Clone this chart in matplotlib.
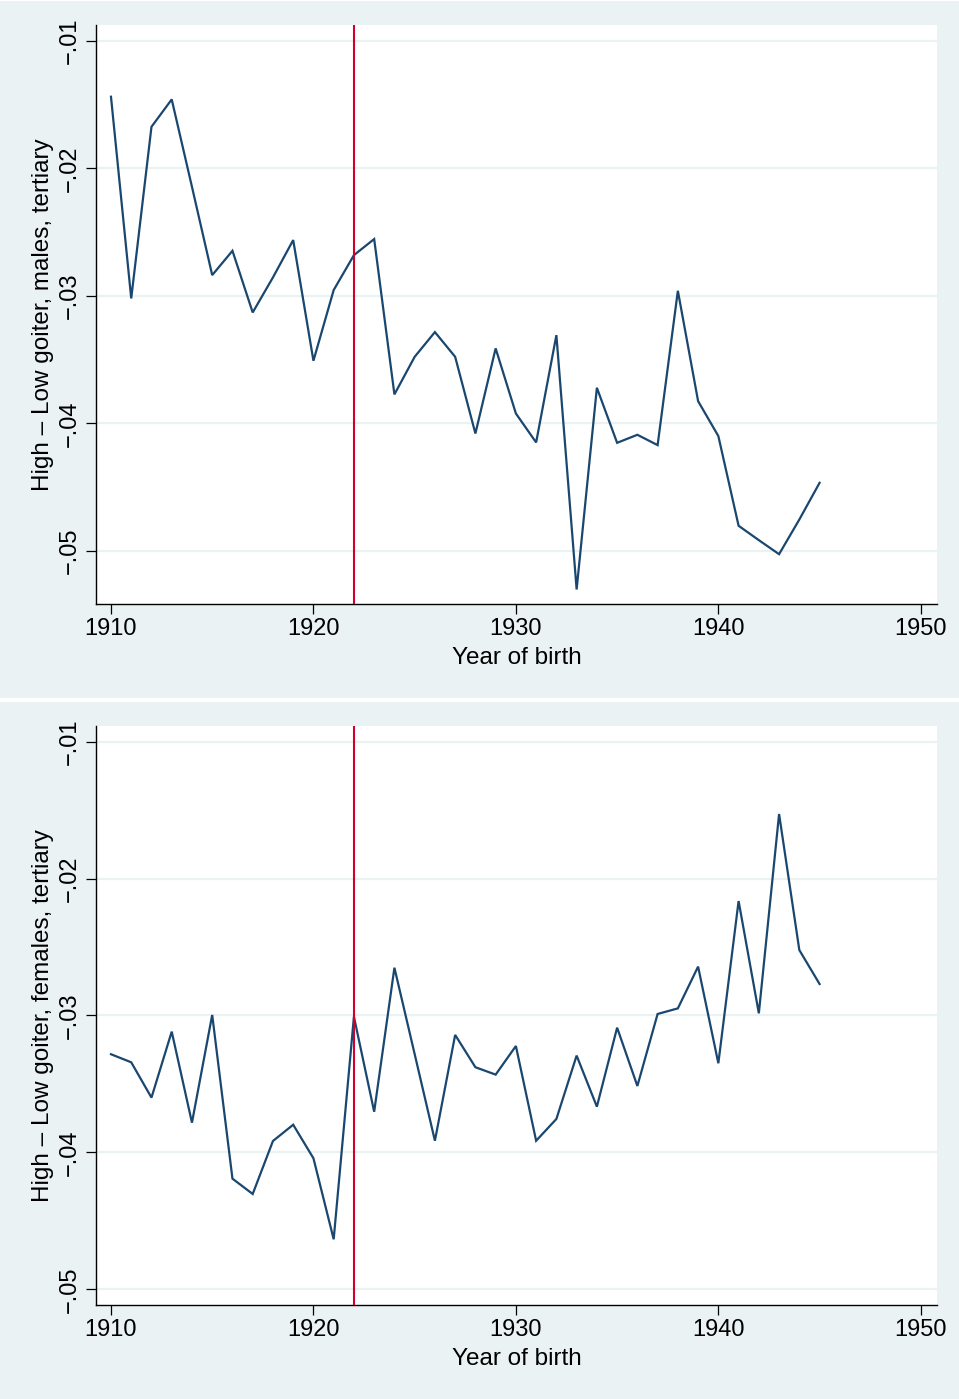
import matplotlib
matplotlib.use("Agg")
import matplotlib.pyplot as plt
from matplotlib.patches import Rectangle

plt.rcParams['font.family'] = ['Liberation Sans', 'DejaVu Sans']

years = list(range(1910, 1946))

males = [-0.01437, -0.03020, -0.01673, -0.01458, -0.02144, -0.02837, -0.02646, -0.03130,
         -0.02855, -0.02562, -0.03509, -0.02954, -0.02680, -0.02554, -0.03773, -0.03478,
         -0.03284, -0.03478, -0.04080, -0.03412, -0.03923, -0.04150, -0.03308, -0.05304,
         -0.03721, -0.04153, -0.04090, -0.04171, -0.02960, -0.03826, -0.04100, -0.04804,
         -0.04917, -0.05027, -0.04755, -0.04467]

females = [-0.03283, -0.03342, -0.03600, -0.03118, -0.03783, -0.02996, -0.04192, -0.04304,
           -0.03917, -0.03798, -0.04043, -0.04635, -0.03009, -0.03703, -0.02651, -0.03282,
           -0.03915, -0.03142, -0.03378, -0.03432, -0.03223, -0.03915, -0.03756, -0.03293,
           -0.03666, -0.03089, -0.03515, -0.02989, -0.02948, -0.02643, -0.03349, -0.02164,
           -0.02984, -0.01528, -0.02522, -0.02770]

cutoff_year = 1922
x_ticks = [1910, 1920, 1930, 1940, 1950]
y_ticks = [-0.01, -0.02, -0.03, -0.04, -0.05]
y_ticklabels = ["\u2212.01", "\u2212.02", "\u2212.03", "\u2212.04", "\u2212.05"]
ylabels = ["High \u2013 Low goiter, males, tertiary",
           "High \u2013 Low goiter, females, tertiary"]
xlabel = "Year of birth"

W, H = 959, 1399
fig = plt.figure(figsize=(W / 100, H / 100), dpi=100, facecolor='white')

bg = '#EAF2F3'
navy = '#1A476F'
red = '#D2002D'

# panel backgrounds (figure pixel coords -> fractions)
fig.patches.append(Rectangle((0, (H - 698) / H), 1, 697 / H, transform=fig.transFigure,
                             facecolor=bg, edgecolor='none', zorder=-10))
fig.patches.append(Rectangle((0, 0), 1, (H - 702) / H, transform=fig.transFigure,
                             facecolor=bg, edgecolor='none', zorder=-10))

panels = [
    dict(data=males, top=25, bottom=604, ylim=(-0.05418, -0.00874), ylabel=ylabels[0]),
    dict(data=females, top=725.7, bottom=1305, ylim=(-0.05115, -0.00883), ylabel=ylabels[1]),
]

left_px, right_px = 96, 937
for p in panels:
    ax = fig.add_axes([left_px / W, (H - p['bottom']) / H,
                       (right_px - left_px) / W, (p['bottom'] - p['top']) / H])
    ax.set_facecolor('white')
    ax.set_xlim(1909.26, 1950.8)
    ax.set_ylim(*p['ylim'])
    ax.set_yticks(y_ticks)
    ax.set_yticklabels(y_ticklabels, rotation=90, va='center', fontsize=17)
    ax.set_xticks(x_ticks)
    ax.set_xticklabels([str(t) for t in x_ticks], fontsize=17)
    ax.grid(axis='y', color=bg, lw=1.6, zorder=0)
    ax.grid(axis='x', visible=False)
    for s in ['top', 'right']:
        ax.spines[s].set_visible(False)
    for s in ['left', 'bottom']:
        ax.spines[s].set_linewidth(1.0)
        ax.spines[s].set_color('black')
    ax.tick_params(axis='both', length=7.2, width=0.9, color='black')
    ax.tick_params(axis='y', pad=4)
    ax.tick_params(axis='x', pad=3)
    ax.plot(years, p['data'], color=navy, lw=1.6, zorder=3, solid_joinstyle='miter')
    ax.axvline(cutoff_year, color=red, lw=1.5, zorder=4)
    ax.set_ylabel(p['ylabel'], fontsize=17.5, labelpad=3)
    ax.set_xlabel(xlabel, fontsize=17.5, labelpad=5)

fig.savefig('out.png', dpi=100, facecolor='white')
